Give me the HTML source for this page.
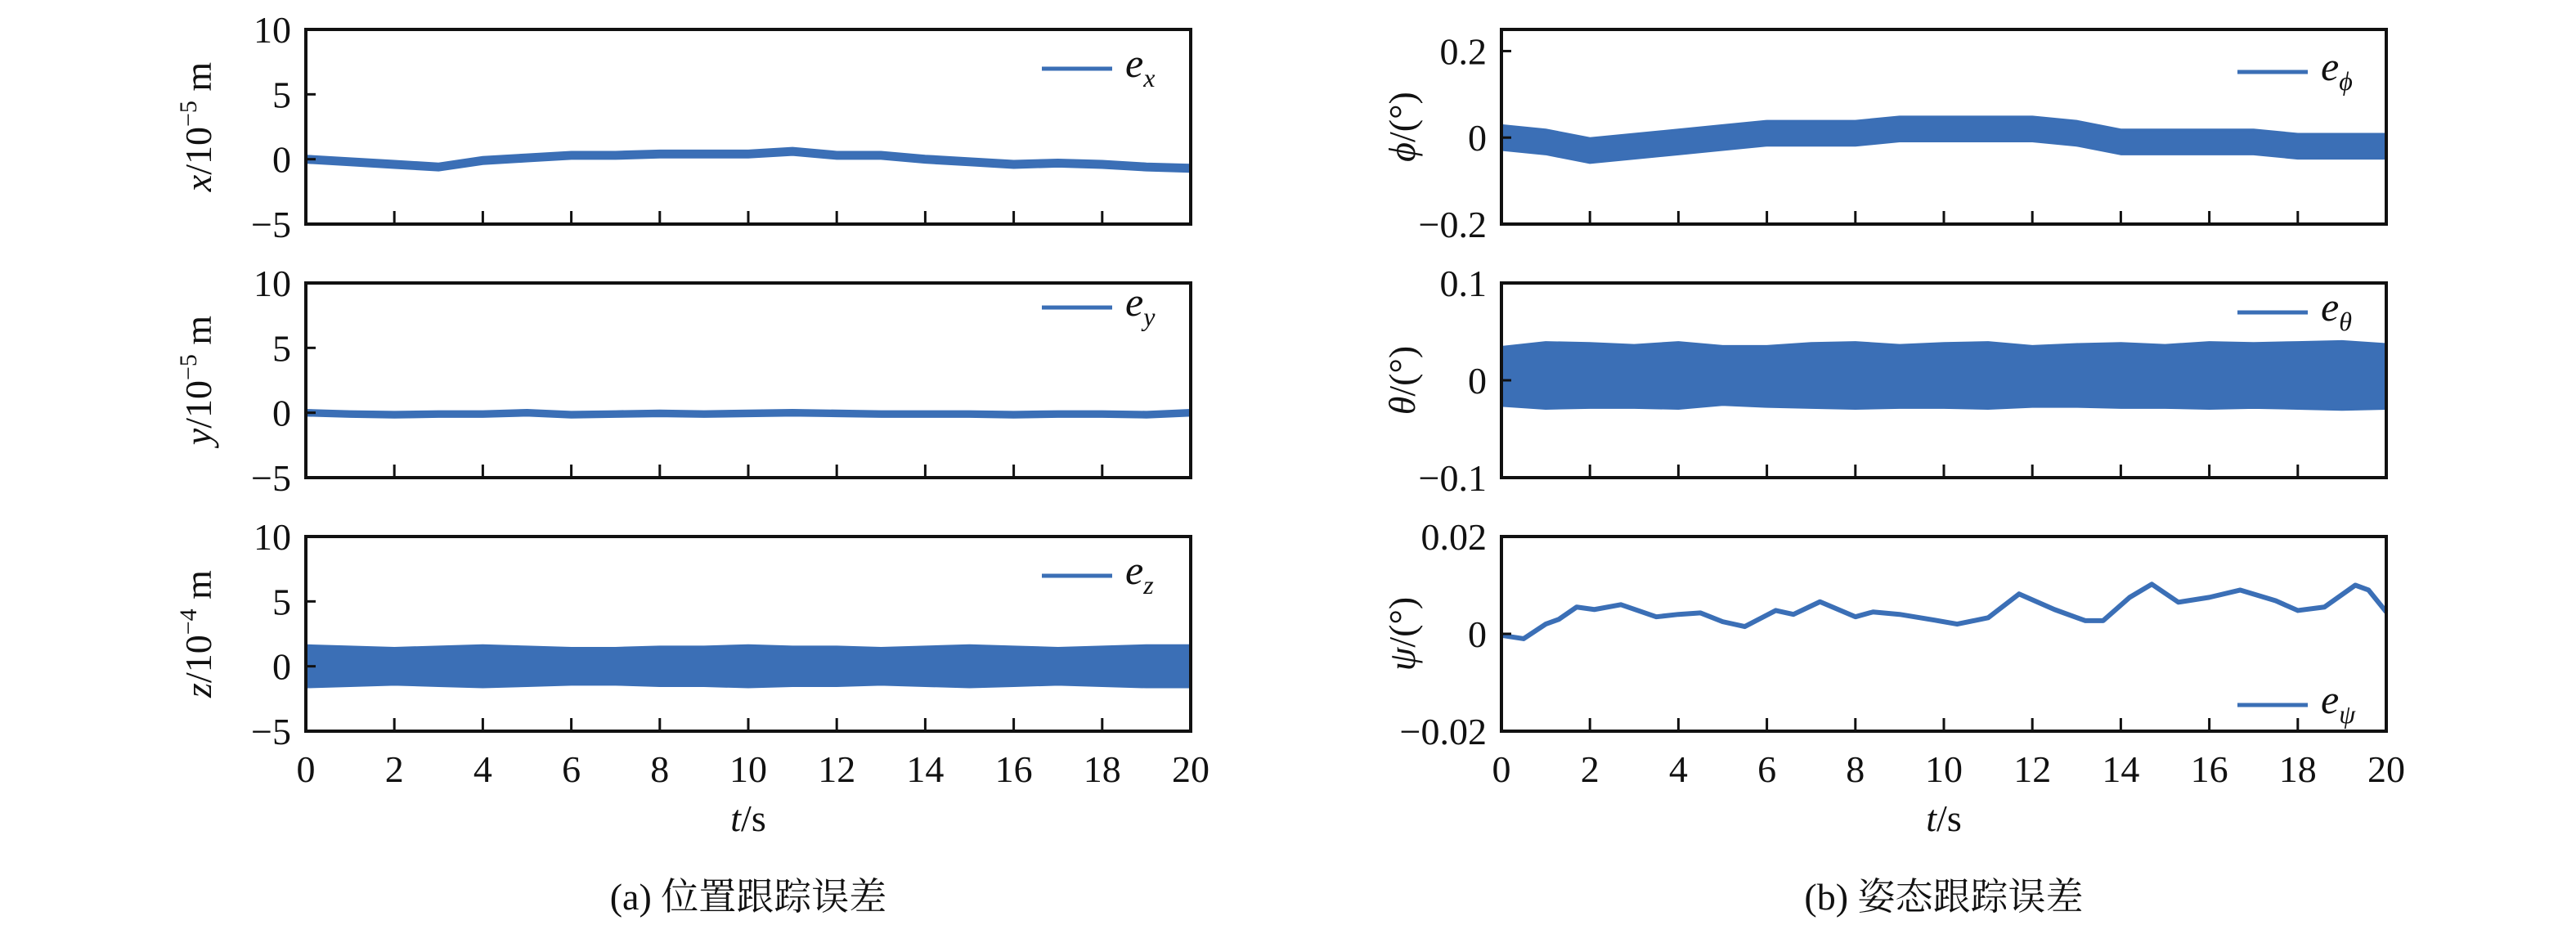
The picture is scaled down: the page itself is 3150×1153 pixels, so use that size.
<!DOCTYPE html>
<html><head><meta charset="utf-8"><style>
html,body{margin:0;padding:0;background:#fff;}
svg{display:block;font-family:"Liberation Serif","Noto Serif CJK SC",serif;}
</style></head><body>
<svg id="chart" width="3150" height="1153" viewBox="0 0 3150 1153" xmlns="http://www.w3.org/2000/svg"></svg>
<script>
// ---- data ----
const timeSec = [0,1,2,3,4,5,6,7,8,9,10,11,12,13,14,15,16,17,18,19,20];
const exCenter = [0,-0.2,-0.4,-0.6,-0.1,0.1,0.3,0.3,0.4,0.4,0.4,0.6,0.3,0.3,0,-0.2,-0.4,-0.3,-0.4,-0.6,-0.7];
const exAmp = [0.25,0.25,0.25,0.25,0.25,0.25,0.25,0.25,0.25,0.25,0.25,0.25,0.25,0.25,0.25,0.25,0.25,0.25,0.25,0.25,0.25];
const eyCenter = [0,-0.1,-0.15,-0.1,-0.1,0,-0.15,-0.1,-0.05,-0.1,-0.05,0,-0.05,-0.1,-0.1,-0.1,-0.15,-0.1,-0.1,-0.15,0];
const eyAmp = [0.2,0.2,0.2,0.2,0.2,0.2,0.2,0.2,0.2,0.2,0.2,0.2,0.2,0.2,0.2,0.2,0.2,0.2,0.2,0.2,0.2];
const ezCenter = [0,0,0,0,0,0,0,0,0,0,0,0,0,0,0,0,0,0,0,0,0];
const ezAmp = [1.6,1.5,1.4,1.5,1.6,1.5,1.4,1.4,1.5,1.5,1.6,1.5,1.5,1.4,1.5,1.6,1.5,1.4,1.5,1.6,1.6];
const ePhiCenter = [0,-0.01,-0.03,-0.02,-0.01,0,0.01,0.01,0.01,0.02,0.02,0.02,0.02,0.01,-0.01,-0.01,-0.01,-0.01,-0.02,-0.02,-0.02];
const ePhiAmp = [0.028,0.028,0.028,0.028,0.028,0.028,0.028,0.028,0.028,0.028,0.028,0.028,0.028,0.028,0.028,0.028,0.028,0.028,0.028,0.028,0.028];
const eThetaCenter = [0.004,0.005,0.005,0.004,0.005,0.005,0.004,0.005,0.005,0.004,0.005,0.005,0.004,0.005,0.005,0.004,0.005,0.005,0.005,0.005,0.004];
const eThetaAmp = [0.03,0.034,0.033,0.032,0.034,0.03,0.031,0.033,0.034,0.032,0.033,0.034,0.031,0.032,0.033,0.032,0.034,0.033,0.034,0.035,0.033];
const ePsiTime = [0,0.5,1,1.3,1.7,2.1,2.7,3.5,4,4.5,5,5.5,6.2,6.6,7.2,8,8.4,9,9.8,10.3,11,11.7,12.5,13.2,13.6,14.2,14.7,15.3,16,16.7,17.5,18,18.6,19.3,19.6,20];
const ePsi = [-0.0003,-0.001,0.002,0.003,0.0055,0.005,0.006,0.0035,0.004,0.0043,0.0025,0.0015,0.0048,0.004,0.0066,0.0035,0.0045,0.004,0.0028,0.002,0.0033,0.0082,0.005,0.0027,0.0027,0.0075,0.0102,0.0065,0.0075,0.009,0.0068,0.0048,0.0055,0.01,0.009,0.0045];
const xTicks = [0,2,4,6,8,10,12,14,16,18,20];
const posTicks = [-5,0,5,10];
const phiTicks = [-0.2,0,0.2];
const thetaTicks = [-0.1,0,0.1];
const psiTicks = [-0.02,0,0.02];

const NS="http://www.w3.org/2000/svg";
const svg=document.getElementById('chart');
const BLUE="#3b6fb6";
const FS=46;
function mk(tag,attrs,parent){const e=document.createElementNS(NS,tag);for(const k in attrs)e.setAttribute(k,attrs[k]);(parent||svg).appendChild(e);return e;}

function panel(cfg){
  const g=mk('g',{});
  
  
  const X0=cfg.x0,X1=cfg.x1,Y0=cfg.y0,Y1=cfg.y1;
  const sx=t=>X0+(t-0)/(20-0)*(X1-X0);
  const sy=v=>Y1-(v-cfg.ymin)/(cfg.ymax-cfg.ymin)*(Y1-Y0);
  if(cfg.band){
    let up=[],lo=[];
    cfg.tt.forEach((t,i)=>{up.push(sx(t)+','+sy(cfg.c[i]+cfg.a[i]));lo.push(sx(t)+','+sy(cfg.c[i]-cfg.a[i]));});
    const p=mk('polygon',{points:up.concat(lo.reverse()).join(' '),fill:BLUE,stroke:BLUE,'stroke-width':3,'stroke-linejoin':'round'},g);
    
    
  } else {
    const pts=cfg.tt.map((t,i)=>sx(t)+','+sy(cfg.c[i])).join(' ');
    const l=mk('polyline',{points:pts,fill:'none',stroke:BLUE,'stroke-width':6,'stroke-linejoin':'round'},g);
    
    
  }
  const r=mk('rect',{x:X0,y:Y0,width:X1-X0,height:Y1-Y0,fill:'none',stroke:'#111','stroke-width':4},g);
  
  
  xTicks.forEach(t=>{
    mk('line',{x1:sx(t),x2:sx(t),y1:Y1,y2:Y1-16,stroke:'#111','stroke-width':3},g);
    if(cfg.xlabels){
      const tx=mk('text',{x:sx(t),y:Y1+62,'font-size':FS,'text-anchor':'middle',fill:'#111'},g);
      tx.textContent=t;
      
      
    }
  });
  cfg.yt.forEach((v,i)=>{
    mk('line',{x1:X0,x2:X0+12,y1:sy(v),y2:sy(v),stroke:'#111','stroke-width':3},g);
    const tx=mk('text',{x:X0-18,y:sy(v)+16,'font-size':FS,'text-anchor':'end',fill:'#111'},g);
    tx.textContent=(v<0?'\u2212':'')+cfg.ytl[i];
    
    
  });
  const yl=mk('text',{x:0,y:0,'font-size':FS,'text-anchor':'middle',fill:'#111',transform:`translate(${cfg.ylx},${(Y0+Y1)/2}) rotate(-90)`},g);
  yl.innerHTML=cfg.ylabel;
  
  
  const lg=mk('g',{},g);
  
  
  mk('line',{x1:X1-182,x2:X1-96,y1:cfg.ly,y2:cfg.ly,stroke:BLUE,'stroke-width':5},lg);
  const lt=mk('text',{x:X1-80,y:cfg.ly+10,'font-size':50,'font-style':'italic',fill:'#111'},lg);
  lt.innerHTML='e<tspan font-size="32" dy="12">'+cfg.sub+'</tspan>';
}

const L={x0:374,x1:1456}, R={x0:1836,x1:2918};
const rows=[[36,274],[346,584],[656,894]];
panel({name:'ex-panel',series:'ex',...L,y0:rows[0][0],y1:rows[0][1],ymin:-5,ymax:10,yt:posTicks,ytl:['5','0','5','10'],tt:timeSec,c:exCenter,a:exAmp,band:true,ylx:258,ylabel:'<tspan font-style="italic">x</tspan>/10<tspan font-size="30" dy="-18">\u22125</tspan><tspan dy="18"> m</tspan>',ly:84,sub:'x'});
panel({name:'ey-panel',series:'ey',...L,y0:rows[1][0],y1:rows[1][1],ymin:-5,ymax:10,yt:posTicks,ytl:['5','0','5','10'],tt:timeSec,c:eyCenter,a:eyAmp,band:true,ylx:258,ylabel:'<tspan font-style="italic">y</tspan>/10<tspan font-size="30" dy="-18">\u22125</tspan><tspan dy="18"> m</tspan>',ly:376,sub:'y'});
panel({name:'ez-panel',series:'ez',...L,y0:rows[2][0],y1:rows[2][1],ymin:-5,ymax:10,yt:posTicks,ytl:['5','0','5','10'],tt:timeSec,c:ezCenter,a:ezAmp,band:true,ylx:258,ylabel:'<tspan font-style="italic">z</tspan>/10<tspan font-size="30" dy="-18">\u22124</tspan><tspan dy="18"> m</tspan>',ly:704,sub:'z',xlabels:true});
panel({name:'ephi-panel',series:'ephi',...R,y0:rows[0][0],y1:rows[0][1],ymin:-0.2,ymax:0.25,yt:phiTicks,ytl:['0.2','0','0.2'],tt:timeSec,c:ePhiCenter,a:ePhiAmp,band:true,ylx:1730,ylabel:'<tspan font-style="italic">\u03d5</tspan>/(\u00b0)',ly:88,sub:'\u03d5'});
panel({name:'etheta-panel',series:'etheta',...R,y0:rows[1][0],y1:rows[1][1],ymin:-0.1,ymax:0.1,yt:thetaTicks,ytl:['0.1','0','0.1'],tt:timeSec,c:eThetaCenter,a:eThetaAmp,band:true,ylx:1730,ylabel:'<tspan font-style="italic">\u03b8</tspan>/(\u00b0)',ly:382,sub:'\u03b8'});
panel({name:'epsi-panel',series:'epsi',...R,y0:rows[2][0],y1:rows[2][1],ymin:-0.02,ymax:0.02,yt:psiTicks,ytl:['0.02','0','0.02'],tt:ePsiTime,c:ePsi,band:false,ylx:1730,ylabel:'<tspan font-style="italic">\u03c8</tspan>/(\u00b0)',ly:862,sub:'\u03c8',xlabels:true});

[915,2377].forEach(cx=>{
  const t=mk('text',{x:cx,y:1016,'font-size':FS,'text-anchor':'middle',fill:'#111'});
  t.innerHTML='<tspan font-style="italic">t</tspan>/s';
  
  
});
const c1=mk('text',{x:915,y:1112,'font-size':FS,'text-anchor':'middle',fill:'#111'});
c1.textContent='(a) 位置跟踪误差';


const c2=mk('text',{x:2377,y:1112,'font-size':FS,'text-anchor':'middle',fill:'#111'});
c2.textContent='(b) 姿态跟踪误差';


</script>
</body></html>
